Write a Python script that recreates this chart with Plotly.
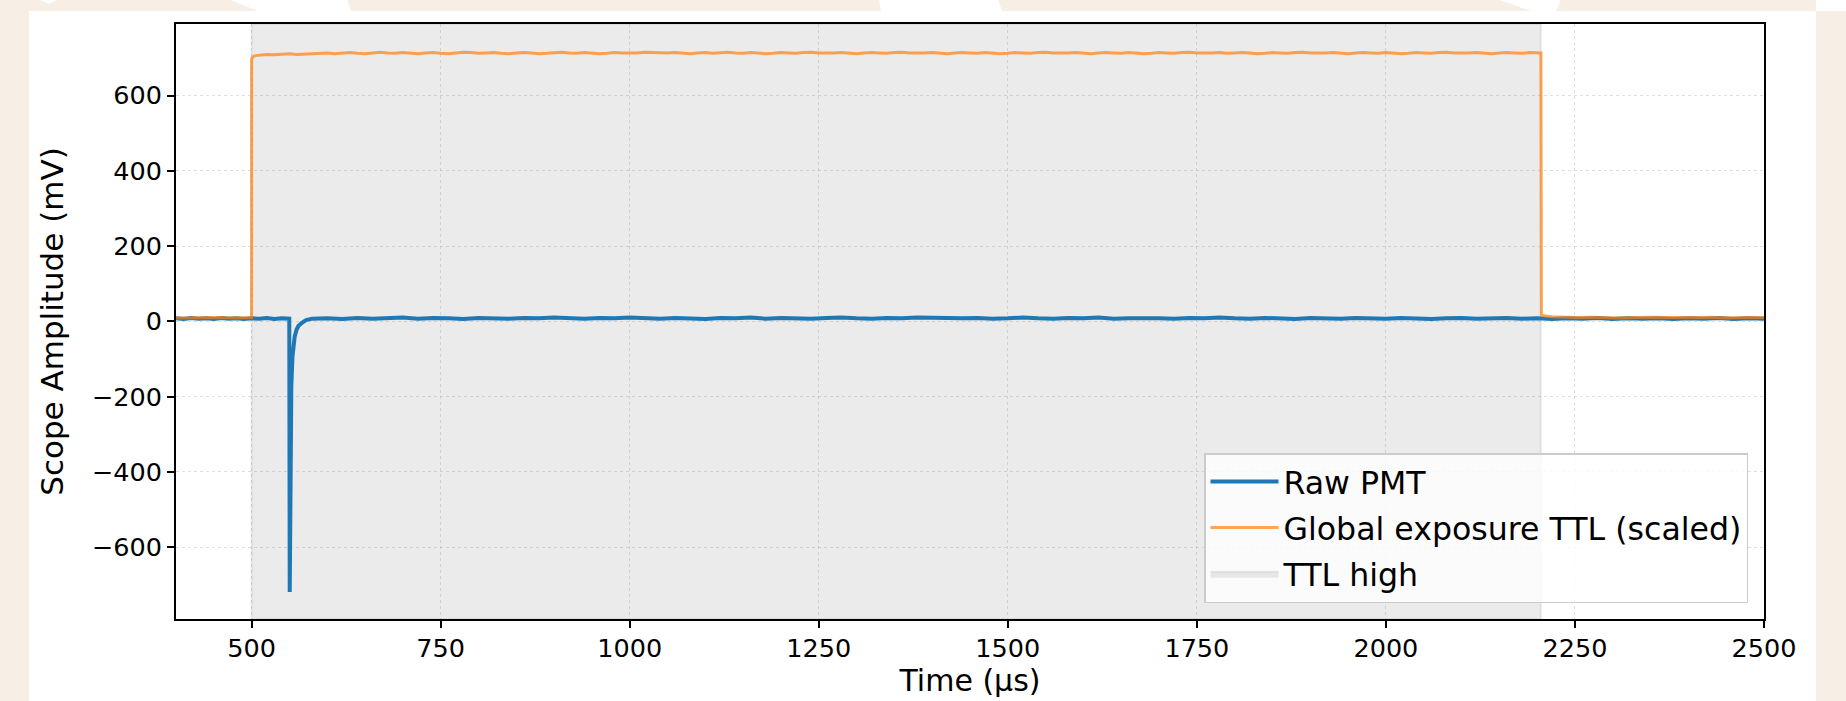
import plotly.graph_objects as go

# ---------------- data ----------------
# Raw PMT trace (mV) vs time (µs)
pmt_t = [400, 410, 420, 430, 440, 450, 460, 470, 480, 490, 500, 510, 520, 530, 540,
         549.8, 550.4, 551.5, 552.5, 554, 555, 557, 559.5, 562, 566, 572,
         580, 600, 620, 640, 660, 680, 700, 720, 740, 760, 780, 800, 820, 840, 860, 880,
         900, 920, 940, 960, 980, 1000, 1020, 1040, 1060, 1080, 1100, 1120, 1140, 1160, 1180,
         1200, 1220, 1240, 1260, 1280, 1300, 1320, 1340, 1360, 1380, 1400, 1420, 1440, 1460, 1480,
         1500, 1520, 1540, 1560, 1580, 1600, 1620, 1640, 1660, 1680, 1700, 1720, 1740, 1760, 1780,
         1800, 1820, 1840, 1860, 1880, 1900, 1920, 1940, 1960, 1980, 2000, 2020, 2040, 2060, 2080,
         2100, 2120, 2140, 2160, 2180, 2200, 2220, 2240, 2260, 2280, 2300, 2320, 2340, 2360, 2380,
         2400, 2420, 2440, 2460, 2480, 2500]
pmt_mv = [8, 6, 9, 7, 8, 6, 9, 7, 8, 6, 8, 7, 9, 6, 8,
          7, -719, -320, -175, -95, -67, -40, -22, -12, -5, 3,
          7, 8, 6, 9, 7, 8, 10, 7, 9, 8, 6, 9, 8, 7, 9, 8,
          10, 8, 7, 9, 8, 10, 8, 7, 9, 8, 6, 9, 8, 10, 7,
          9, 8, 7, 9, 10, 8, 7, 9, 8, 10, 9, 7, 8, 9, 7,
          8, 10, 8, 7, 9, 8, 10, 7, 8, 9, 8, 7, 9, 8, 10,
          8, 7, 9, 8, 6, 9, 8, 7, 9, 8, 7, 9, 8, 6, 8,
          9, 7, 8, 9, 7, 8, 6, 8, 7, 9, 6, 8, 7, 8, 6,
          8, 7, 9, 6, 8, 7]

# Global exposure TTL (scaled, mV) vs time (µs)
ttl_t = [400, 420, 440, 460, 480, 499.9, 500, 502, 505,
         510, 520, 530, 540, 550, 560, 570, 580, 590, 600,
         610, 620, 630, 640, 650, 660, 670, 680, 690, 700,
         710, 720, 730, 740, 750, 760, 770, 780, 790, 800,
         810, 820, 830, 840, 850, 860, 870, 880, 890, 900,
         910, 920, 930, 940, 950, 960, 970, 980, 990, 1000,
         1010, 1020, 1030, 1040, 1050, 1060, 1070, 1080, 1090, 1100,
         1110, 1120, 1130, 1140, 1150, 1160, 1170, 1180, 1190, 1200,
         1210, 1220, 1230, 1240, 1250, 1260, 1270, 1280, 1290, 1300,
         1310, 1320, 1330, 1340, 1350, 1360, 1370, 1380, 1390, 1400,
         1410, 1420, 1430, 1440, 1450, 1460, 1470, 1480, 1490, 1500,
         1510, 1520, 1530, 1540, 1550, 1560, 1570, 1580, 1590, 1600,
         1610, 1620, 1630, 1640, 1650, 1660, 1670, 1680, 1690, 1700,
         1710, 1720, 1730, 1740, 1750, 1760, 1770, 1780, 1790, 1800,
         1810, 1820, 1830, 1840, 1850, 1860, 1870, 1880, 1890, 1900,
         1910, 1920, 1930, 1940, 1950, 1960, 1970, 1980, 1990, 2000,
         2010, 2020, 2030, 2040, 2050, 2060, 2070, 2080, 2090, 2100,
         2110, 2120, 2130, 2140, 2150, 2160, 2170, 2180, 2190, 2200,
         2205, 2205.6, 2210, 2220, 2230, 2250, 2270, 2290, 2310, 2330, 2350,
         2370, 2390, 2410, 2430, 2450, 2470, 2490, 2500]
ttl_mv = [9, 10, 9, 10, 9, 10, 697, 703, 706,
          707, 709, 708, 710, 711, 709, 710, 712, 711, 713,
          711, 712, 714, 712, 711, 713, 715, 713, 712, 714,
          713, 711, 713, 714, 712, 711, 713, 715, 714, 712,
          713, 714, 712, 711, 713, 714, 713, 711, 712, 714,
          715, 713, 712, 714, 713, 711, 712, 714, 713, 712,
          713, 715, 714, 712, 713, 714, 712, 711, 713, 714,
          712, 713, 715, 713, 712, 714, 713, 711, 712, 714,
          713, 712, 714, 715, 713, 712, 713, 714, 712, 711,
          713, 714, 713, 712, 714, 715, 713, 712, 713, 714,
          712, 711, 713, 714, 713, 712, 714, 713, 711, 712,
          714, 713, 712, 714, 715, 713, 712, 713, 714, 712,
          711, 713, 714, 713, 712, 714, 713, 711, 712, 714,
          713, 712, 714, 715, 713, 712, 713, 714, 712, 713,
          714, 713, 711, 712, 714, 713, 712, 714, 715, 713,
          712, 713, 714, 712, 711, 713, 714, 713, 712, 714,
          713, 711, 712, 714, 713, 712, 714, 715, 713, 712,
          713, 714, 712, 711, 713, 714, 713, 712, 714, 713,
          713, 18, 14, 12, 11, 10, 11, 10, 9, 10, 11,
          10, 9, 10, 11, 9, 10, 9, 10]

# TTL-high window (µs)
ttl_high_start = 500
ttl_high_end = 2205

x_ticks = [500, 750, 1000, 1250, 1500, 1750, 2000, 2250, 2500]
y_ticks = [-600, -400, -200, 0, 200, 400, 600]
x_range = [400, 2500]
y_range = [-791, 790]

# ---------------- layout geometry ----------------
W, H = 1846, 701
L, R, T, B = 176, 82, 24, 82
PW, PH = W - L - R, H - T - B


def px(xp):
    return (xp - L) / PW


def py(yp):
    return 1 - (yp - T) / PH


FONT = "DejaVu Sans"
BEIGE = "#f7efe5"

fig = go.Figure()

# TTL-high window drawn as a filled band spanning the y axis range
fig.add_trace(go.Scatter(
    x=[ttl_high_start, ttl_high_end, ttl_high_end, ttl_high_start, ttl_high_start],
    y=[y_range[0], y_range[0], y_range[1], y_range[1], y_range[0]],
    mode="lines", fill="toself", name="TTL high",
    fillcolor="rgba(128,128,128,0.16)",
    line=dict(color="rgba(128,128,128,0.14)", width=2),
    hoverinfo="skip", legendrank=3, legendgroup="c",
))
fig.add_trace(go.Scatter(
    x=pmt_t, y=pmt_mv, mode="lines", name="Raw PMT",
    line=dict(color="#1f77b4", width=4), legendrank=1, legendgroup="a",
))
fig.add_trace(go.Scatter(
    x=ttl_t, y=ttl_mv, mode="lines", name="Global exposure TTL (scaled)",
    line=dict(color="rgba(255,127,14,0.7)", width=3), legendrank=2, legendgroup="b",
))

shapes = []
# page background pieces (white card on beige)
shapes.append(dict(type="rect", xref="paper", yref="paper", layer="below",
                   x0=px(29), x1=px(1816), y0=py(712), y1=py(11),
                   fillcolor="white", line=dict(width=0)))
shapes.append(dict(type="rect", xref="paper", yref="paper", layer="below",
                   x0=px(1816), x1=px(1850), y0=py(11), y1=py(-2),
                   fillcolor="white", line=dict(width=0)))
polys = [
    [(38, -1), (59, -1), (49, 4)],
    [(228, -1), (347, -1), (351, 11), (258, 11)],
    [(879, -1), (998, -1), (1002, 11), (881, 11)],
    [(1497, -1), (1561, -1), (1556, 11), (1531, 11)],
]
for poly in polys:
    path = "M " + " L ".join(f"{px(a):.5f},{py(b):.5f}" for a, b in poly) + " Z"
    shapes.append(dict(type="path", xref="paper", yref="paper", layer="below",
                       path=path, fillcolor="white", line=dict(width=0)))

fig.update_layout(shapes=shapes)

fig.update_layout(
    width=W, height=H,
    margin=dict(l=L, r=R, t=T, b=B, autoexpand=False),
    paper_bgcolor=BEIGE,
    plot_bgcolor="white",
    font=dict(family=FONT, color="black", size=25.5),
    showlegend=True,
    legend=dict(
        x=px(1748), y=py(603), xanchor="right", yanchor="bottom",
        bgcolor="rgba(255,255,255,0.8)", bordercolor="#cccccc", borderwidth=1.5,
        font=dict(family=FONT, size=31.6, color="black"),
        tracegroupgap=2, itemwidth=68,
    ),
    xaxis=dict(
        range=x_range, tickvals=x_ticks, ticks="outside", ticklen=7, tickwidth=2,
        tickcolor="black", showline=True, linecolor="black", linewidth=2, mirror=True,
        showgrid=True, gridcolor="rgba(176,176,176,0.4)", gridwidth=1.2, griddash="dot",
        zeroline=False, tickfont=dict(size=25.5), ticklabelstandoff=-2,
        title=dict(text="Time (µs)", font=dict(size=30), standoff=4),
        automargin=False,
    ),
    yaxis=dict(
        range=y_range, tickvals=y_ticks, ticks="outside", ticklen=7, tickwidth=2,
        tickcolor="black", showline=True, linecolor="black", linewidth=2, mirror=True,
        showgrid=True, gridcolor="rgba(176,176,176,0.4)", gridwidth=1.2, griddash="dot",
        zeroline=False, tickfont=dict(size=25.5), ticklabelstandoff=0,
        title=dict(text="Scope Amplitude (mV)", font=dict(size=31), standoff=19),
        automargin=False,
    ),
)

fig.write_html(
    "out.html",
    config={"displayModeBar": False},
    post_script="document.body.style.margin='0';document.body.style.background='" + BEIGE + "';",
)
